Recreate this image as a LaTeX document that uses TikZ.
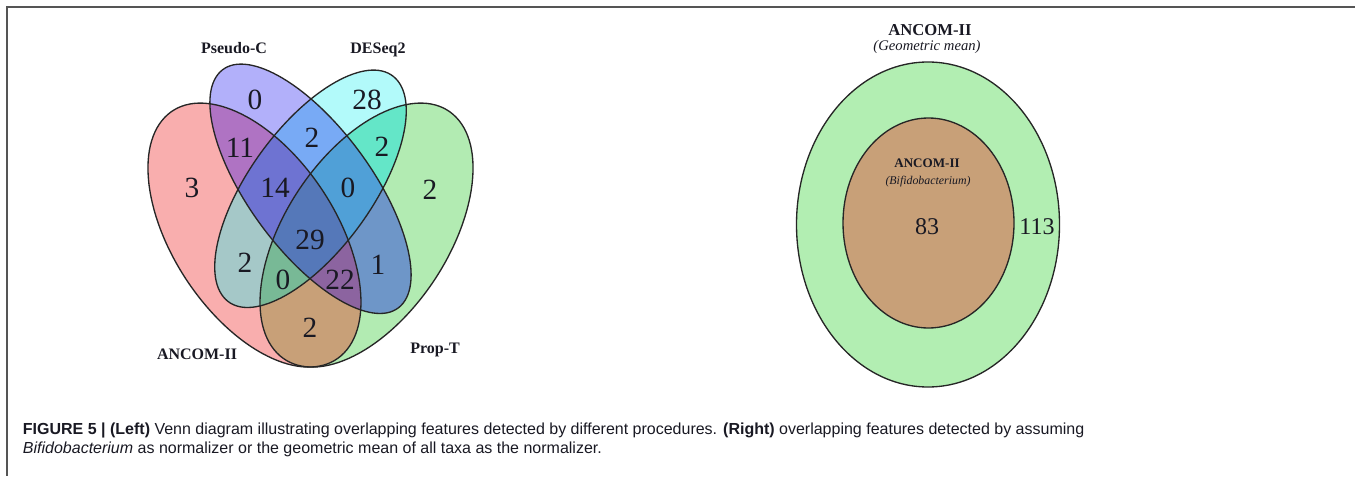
\documentclass[tikz,border=0pt]{standalone}
\usepackage{fontspec}
\setmainfont{Liberation Serif}
\setsansfont{Liberation Sans}
\usepackage{tikz}

% region colours, one per combination of sets
\definecolor{vennA}{RGB}{249,174,174}
\definecolor{vennP}{RGB}{178,176,250}
\definecolor{vennD}{RGB}{178,250,250}
\definecolor{vennT}{RGB}{178,235,178}
\definecolor{vennAP}{RGB}{175,115,195}
\definecolor{vennAD}{RGB}{165,200,200}
\definecolor{vennAT}{RGB}{200,160,120}
\definecolor{vennPD}{RGB}{120,170,245}
\definecolor{vennPT}{RGB}{110,150,200}
\definecolor{vennDT}{RGB}{100,230,200}
\definecolor{vennAPD}{RGB}{110,115,210}
\definecolor{vennAPT}{RGB}{140,100,160}
\definecolor{vennADT}{RGB}{120,185,150}
\definecolor{vennPDT}{RGB}{80,160,215}
\definecolor{vennAPDT}{RGB}{85,120,185}
\definecolor{outerfill}{RGB}{178,238,178}
\definecolor{innerfill}{RGB}{200,160,120}
\definecolor{framegray}{RGB}{85,85,85}
\definecolor{inkdark}{RGB}{25,25,35}

\tikzset{
  ancomset/.style={rotate around={135:(-0.15,-0.03)}, x radius=0.35, y radius=0.20},
  propset/.style={rotate around={45:(0.15,-0.03)}, x radius=0.35, y radius=0.20},
  deseqset/.style={rotate around={45:(0,0.07)}, x radius=0.33, y radius=0.15},
  pseudoset/.style={rotate around={135:(0,0.07)}, x radius=0.35, y radius=0.15},
}
\newcommand{\clipancom}{\clip[ancomset] (-0.15,-0.03) ellipse [];}
\newcommand{\clipprop}{\clip[propset] (0.15,-0.03) ellipse [];}
\newcommand{\clipdeseq}{\clip[deseqset] (0,0.07) ellipse [];}
\newcommand{\clippseudo}{\clip[pseudoset] (0,0.07) ellipse [];}
\newcommand{\paintall}[1]{\fill[#1] (-1,-1) rectangle (1,1);}

\begin{document}
\begin{tikzpicture}[x=0.75pt,y=0.75pt,
    setname/.style={font=\fontsize{12}{12}\selectfont\bfseries, text=inkdark},
    count/.style={font=\fontsize{22}{22}\selectfont, text=inkdark, inner sep=0pt},
    outline/.style={draw=black!85, line width=1pt}]
  \useasboundingbox (0,0) rectangle (1355,476);

  % The frame
  \draw[framegray, line width=1.2pt] (1355,469) -- (7,469) -- (7,0);

  % The four sets
  \begin{scope}[shift={(310.5,254.8)}, xscale=373.6, yscale=463]
    \fill[vennT, propset] (0.15,-0.03) ellipse [];
    \fill[vennA, ancomset] (-0.15,-0.03) ellipse [];
    \fill[vennD, deseqset] (0,0.07) ellipse [];
    \fill[vennP, pseudoset] (0,0.07) ellipse [];
    % pairs
    \begin{scope} \clipancom \clippseudo \paintall{vennAP} \end{scope}
    \begin{scope} \clipancom \clipdeseq \paintall{vennAD} \end{scope}
    \begin{scope} \clipancom \clipprop \paintall{vennAT} \end{scope}
    \begin{scope} \clippseudo \clipdeseq \paintall{vennPD} \end{scope}
    \begin{scope} \clippseudo \clipprop \paintall{vennPT} \end{scope}
    \begin{scope} \clipdeseq \clipprop \paintall{vennDT} \end{scope}
    % triples
    \begin{scope} \clipancom \clippseudo \clipdeseq \paintall{vennAPD} \end{scope}
    \begin{scope} \clipancom \clippseudo \clipprop \paintall{vennAPT} \end{scope}
    \begin{scope} \clipancom \clipdeseq \clipprop \paintall{vennADT} \end{scope}
    \begin{scope} \clippseudo \clipdeseq \clipprop \paintall{vennPDT} \end{scope}
    % all four
    \begin{scope} \clipancom \clippseudo \clipdeseq \clipprop \paintall{vennAPDT} \end{scope}
    % outlines on top
    \draw[outline, propset] (0.15,-0.03) ellipse [];
    \draw[outline, ancomset] (-0.15,-0.03) ellipse [];
    \draw[outline, deseqset] (0,0.07) ellipse [];
    \draw[outline, pseudoset] (0,0.07) ellipse [];
  \end{scope}

  % The counts
  \node[count] (pC) at (255,376) {0};
  \node[count] (dS) at (367,376) {28};
  \node[count] (aP) at (240,328) {11};
  \node[count] (pD) at (312,338) {2};
  \node[count] (dT) at (382,329) {2};
  \node[count] (aA) at (192,288) {3};
  \node[count] (aPD) at (275,288) {14};
  \node[count] (pDT) at (348,288) {0};
  \node[count] (tT) at (430,286) {2};
  \node[count] (all) at (310,236) {29};
  \node[count] (aD) at (245,213) {2};
  \node[count] (pT) at (378,211) {1};
  \node[count] (aDT) at (283,196) {0};
  \node[count] (aPT) at (340,196) {22};
  \node[count] (aT) at (310,148) {2};

  \node[setname] (pseudo) at (234,428) {Pseudo-C};
  \node[setname] (deseq) at (378,426) {DESeq2};
  \node[setname] (ancom) at (197,122) {ANCOM-II};
  \node[setname] (propt) at (435,126) {Prop-T};

  % The nested pair
  \fill[outerfill, outline] (928,251.5) ellipse [x radius=131.5, y radius=162.5];
  \fill[innerfill, outline] (928.5,253) ellipse [x radius=85.5, y radius=105];
  \node[setname, font=\fontsize{12.5}{12.5}\selectfont\bfseries] (geo) at (930,446) {ANCOM-II};
  \node[text=inkdark, font=\fontsize{11}{11}\selectfont\itshape] (geosub) at (927,429) {(Geometric mean)};
  \node[setname, font=\fontsize{9.8}{9.8}\selectfont\bfseries] (bifi) at (927,313) {ANCOM-II};
  \node[text=inkdark, font=\fontsize{8.9}{8.9}\selectfont\itshape] (bifisub) at (928,294) {(Bifidobacterium)};
  \node[count, font=\fontsize{18}{18}\selectfont] (inner) at (927,249) {83};
  \node[count, font=\fontsize{18}{18}\selectfont] (outer) at (1037,249) {113};

  % The caption
  \node[anchor=base west, inner sep=0pt, text=inkdark, font=\sffamily\fontsize{12}{12}\selectfont] (cap1) at (22.7,42)
    {\textbf{FIGURE 5 | (Left)} Venn diagram illustrating overlapping features detected by different procedures. \textbf{(Right)} overlapping features detected by assuming};
  \node[anchor=base west, inner sep=0pt, text=inkdark, font=\sffamily\fontsize{12}{12}\selectfont] (cap2) at (22.7,23)
    {\textit{Bifidobacterium} as normalizer or the geometric mean of all taxa as the normalizer.};
\end{tikzpicture}
\end{document}
